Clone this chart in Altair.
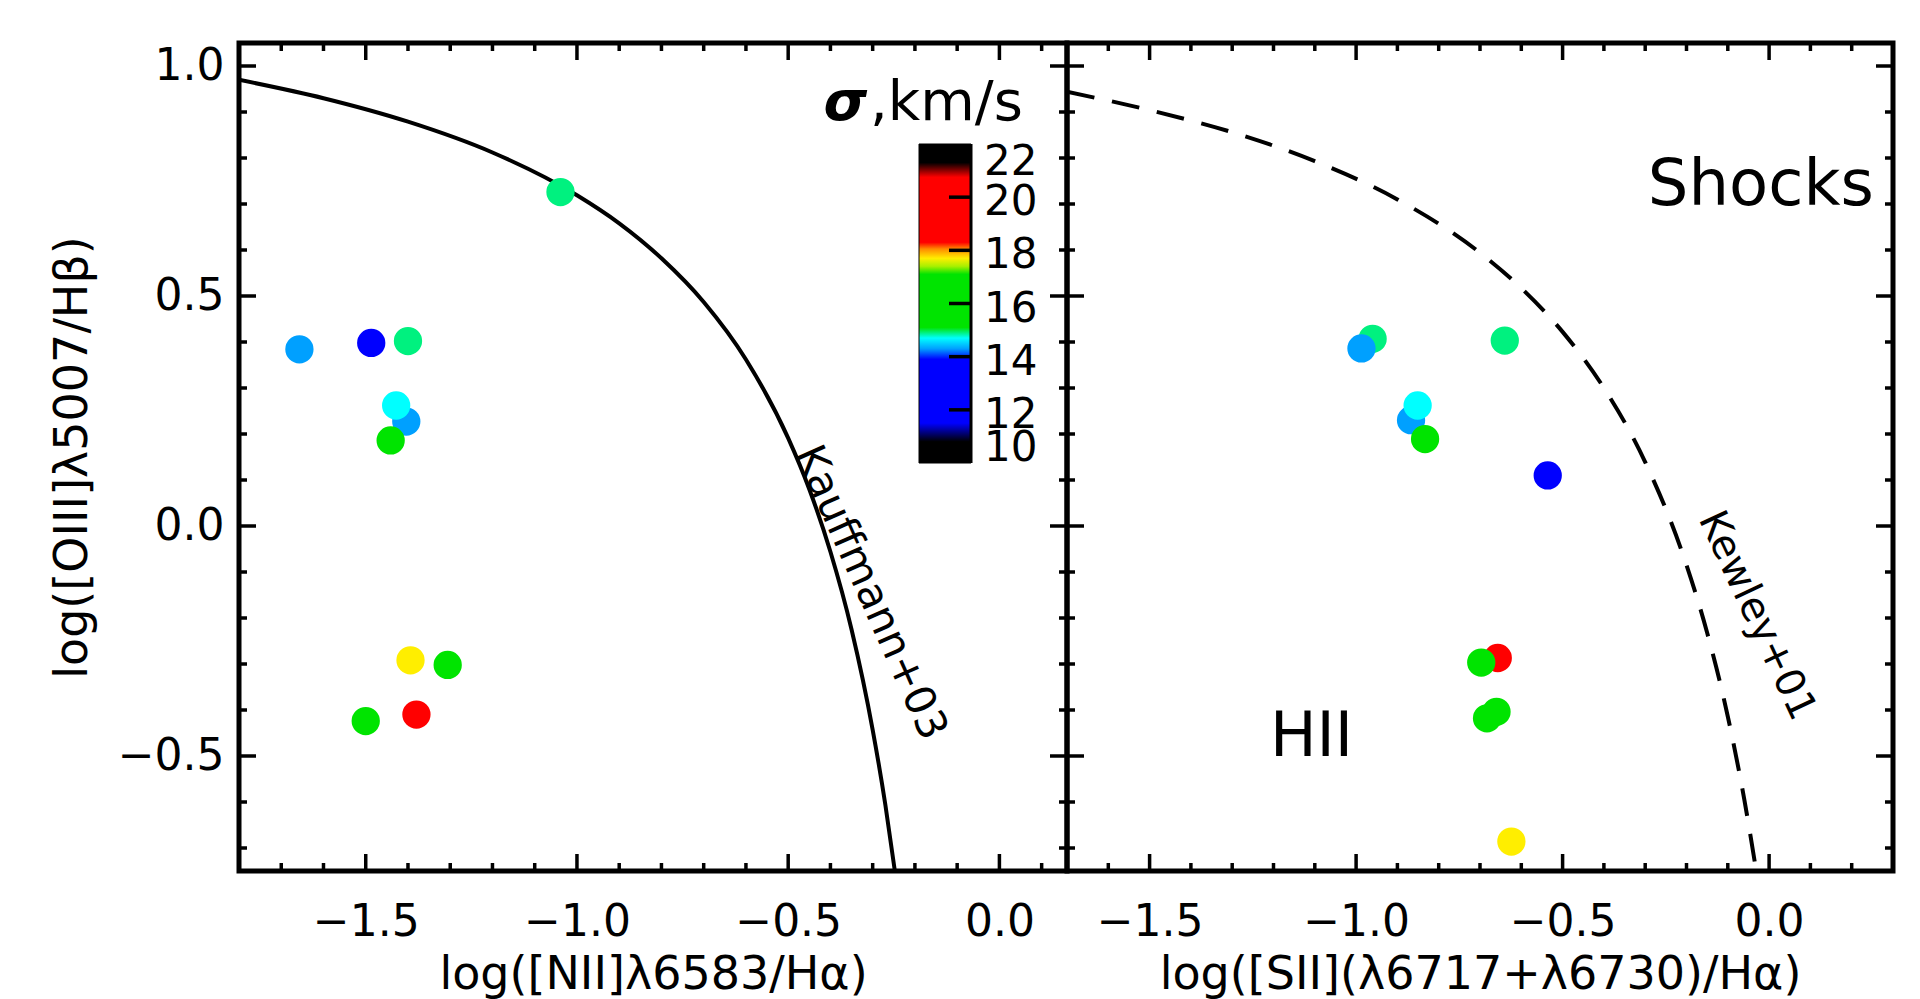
import altair as alt
import pandas as pd

FONT = "DejaVu Sans"

# ---------------- data ----------------
# left panel: log([NII]/Ha) vs log([OIII]/Hb)
nii_x = [-1.039, -1.657, -1.487, -1.400, -1.404, -1.428, -1.441, -1.394, -1.306, -1.500, -1.380]
nii_y = [0.726, 0.384, 0.398, 0.402, 0.227, 0.262, 0.186, -0.292, -0.302, -0.424, -0.410]
nii_sigma = [14.9, 14.3, 13.0, 14.9, 14.3, 14.7, 16.0, 17.7, 16.0, 16.0, 19.5]

# right panel: log([SII]/Ha) vs log([OIII]/Hb)
sii_x = [-0.960, -0.987, -0.640, -0.867, -0.851, -0.833, -0.536, -0.657, -0.697, -0.660, -0.683, -0.624]
sii_y = [0.407, 0.386, 0.403, 0.230, 0.262, 0.189, 0.110, -0.287, -0.297, -0.404, -0.418, -0.686]
sii_sigma = [14.9, 14.3, 14.9, 14.3, 14.7, 16.0, 13.0, 19.5, 16.0, 16.0, 16.0, 17.7]

# Kauffmann+03 curve
kauff_x = [-1.8, -1.6, -1.4, -1.2, -1.0, -0.9, -0.8, -0.7, -0.6, -0.5, -0.45, -0.4, -0.35, -0.3, -0.27, -0.248]
kauff_y = [0.970, 0.930, 0.879, 0.812, 0.719, 0.658, 0.582, 0.487, 0.362, 0.191, 0.080, -0.056, -0.225, -0.443, -0.606, -0.747]

# Kewley+01 curve
kew_x = [-1.7, -1.5, -1.3, -1.1, -0.9, -0.7, -0.6, -0.5, -0.4, -0.3, -0.2, -0.15, -0.1, -0.06, -0.031]
kew_y = [0.944, 0.904, 0.856, 0.793, 0.710, 0.594, 0.517, 0.422, 0.300, 0.139, -0.085, -0.232, -0.414, -0.595, -0.751]

# colour map of sigma (km/s)
cmap_sigma = [10.0, 10.8, 11.5, 13.9, 14.3, 14.7, 15.1, 17.1, 17.4, 17.7, 18.05, 18.3, 20.75, 21.3, 22.0]
cmap_color = ["#000000", "#000000", "#0000ff", "#0000ff", "#00a0ff", "#00ffff", "#00e400", "#00e400",
              "#a8f000", "#ffee00", "#ff8c00", "#ff0000", "#ff0000", "#000000", "#000000"]

# axis ticks
y_major = [-0.5, 0.0, 0.5, 1.0]
y_minor = [-0.7, -0.6, -0.4, -0.3, -0.2, -0.1, 0.1, 0.2, 0.3, 0.4, 0.6, 0.7, 0.8, 0.9]
xl_major = [-1.5, -1.0, -0.5, 0.0]
xl_minor = [-1.7, -1.6, -1.4, -1.3, -1.2, -1.1, -0.9, -0.8, -0.7, -0.6, -0.4, -0.3, -0.2, -0.1, 0.1]
xr_major = [-1.5, -1.0, -0.5, 0.0]
xr_minor = [-1.6, -1.4, -1.3, -1.2, -1.1, -0.9, -0.8, -0.7, -0.6, -0.4, -0.3, -0.2, -0.1, 0.1, 0.2]
cbar_labels = [10, 12, 14, 16, 18, 20, 22]
cbar_ticks = [12, 14, 16, 18, 20]

Y_DOMAIN = [-0.75, 1.05]
XL_DOMAIN = [-1.8, 0.16]
XR_DOMAIN = [-1.7, 0.3]

H = 828
WL = 828
WR = 826
MAJ = 17
MIN = 8
TW = 3.5

cscale = alt.Scale(domain=cmap_sigma, range=cmap_color, interpolate="rgb")


def make_axis(values, title, **kw):
    return alt.Axis(values=values, format=".1f", title=title, ticks=False, tickSize=0,
                    domain=False, grid=False, labelFont=FONT, titleFont=FONT,
                    labelFontSize=44, titleFontSize=46, labelColor="black", titleColor="black",
                    titleFontWeight="normal", labelFlush=False, labelOverlap=False, **kw)


def tick_layers(xs, ys, W, xmaj, xmin, ax_x, ax_y):
    layers = []
    for vals, L in ((xmaj, MAJ), (xmin, MIN)):
        df = pd.DataFrame({"v": vals})
        base = alt.Chart(df).mark_rule(color="black", strokeWidth=TW)
        layers.append(base.encode(x=alt.X("v:Q", scale=xs, axis=ax_x), y=alt.value(H), y2=alt.value(H - L)))
        layers.append(base.encode(x=alt.X("v:Q", scale=xs, axis=ax_x), y=alt.value(0), y2=alt.value(L)))
    for vals, L in ((y_major, MAJ), (y_minor, MIN)):
        df = pd.DataFrame({"v": vals})
        base = alt.Chart(df).mark_rule(color="black", strokeWidth=TW)
        layers.append(base.encode(y=alt.Y("v:Q", scale=ys, axis=ax_y), x=alt.value(0), x2=alt.value(L)))
        layers.append(base.encode(y=alt.Y("v:Q", scale=ys, axis=ax_y), x=alt.value(W), x2=alt.value(W - L)))
    return layers


def text_layer(x, y, txt, xs, ys, ax_x, ax_y, size, angle=0, baseline="alphabetic"):
    df = pd.DataFrame({"x": [x], "y": [y], "t": [txt]})
    return alt.Chart(df).mark_text(font=FONT, fontSize=size, angle=angle, align="center",
                                   baseline=baseline, color="black").encode(
        x=alt.X("x:Q", scale=xs, axis=ax_x), y=alt.Y("y:Q", scale=ys, axis=ax_y), text="t:N")


ys = alt.Scale(domain=Y_DOMAIN, nice=False, zero=False)

# ---------------- left panel ----------------
xs_l = alt.Scale(domain=XL_DOMAIN, nice=False, zero=False)
ax_xl = make_axis(xl_major, "log([NII]λ6583/Hα)", labelPadding=29, titlePadding=8)
ax_yl = make_axis(y_major, "log([OIII]λ5007/Hβ)", labelPadding=15, titlePadding=21)

df_l = pd.DataFrame({"x": nii_x, "y": nii_y, "s": nii_sigma, "i": list(range(len(nii_x)))})
df_k = pd.DataFrame({"x": kauff_x, "y": kauff_y})

pts_l = alt.Chart(df_l).mark_circle(size=800, opacity=1).encode(
    x=alt.X("x:Q", scale=xs_l, axis=ax_xl),
    y=alt.Y("y:Q", scale=ys, axis=ax_yl),
    color=alt.Color("s:Q", scale=cscale, legend=None),
    order=alt.Order("i:Q"),
)
line_k = alt.Chart(df_k).mark_line(color="black", strokeWidth=4, clip=True, interpolate="monotone").encode(
    x=alt.X("x:Q", scale=xs_l, axis=ax_xl), y=alt.Y("y:Q", scale=ys, axis=ax_yl))
lbl_k = text_layer(-0.305, -0.145, "Kauffmann+03", xs_l, ys, ax_xl, ax_yl, 42, angle=66, baseline="middle")

main_l = alt.layer(line_k, pts_l, *tick_layers(xs_l, ys, WL, xl_major, xl_minor, ax_xl, ax_yl), lbl_k)

# colour bar
CB_X0, CB_X1, CB_Y0, CB_Y1 = 680, 732, 420, 101
cbs = alt.Scale(domain=[cmap_sigma[0], cmap_sigma[-1]], range=[CB_Y0, CB_Y1], nice=False, zero=False)
span = cmap_sigma[-1] - cmap_sigma[0]
grad = alt.LinearGradient(
    gradient="linear",
    stops=[alt.GradientStop(color=c, offset=(s - cmap_sigma[0]) / span) for s, c in zip(cmap_sigma, cmap_color)],
    x1=0, x2=0, y1=1, y2=0)
cb_df = pd.DataFrame({"lo": [cmap_sigma[0]], "hi": [cmap_sigma[-1]]})
cb_rect = alt.Chart(cb_df).mark_rect(color=grad, stroke="black", strokeWidth=1).encode(
    x=alt.value(CB_X0), x2=alt.value(CB_X1),
    y=alt.Y("lo:Q", scale=cbs, axis=None), y2="hi:Q")
cb_edge = alt.Chart(cb_df).mark_rule(color="black", strokeWidth=3).encode(
    x=alt.value(CB_X1), y=alt.Y("lo:Q", scale=cbs, axis=None), y2="hi:Q")
cb_ticks = alt.Chart(pd.DataFrame({"v": cbar_ticks})).mark_rule(color="black", strokeWidth=TW).encode(
    y=alt.Y("v:Q", scale=cbs, axis=None), x=alt.value(CB_X1), x2=alt.value(CB_X1 - 22))


def cb_label_layer(vals, baseline, dy):
    df = pd.DataFrame({"v": vals})
    return alt.Chart(df).mark_text(font=FONT, fontSize=42, align="left", baseline=baseline, dy=dy,
                                   color="black").encode(
        y=alt.Y("v:Q", scale=cbs, axis=None), x=alt.value(CB_X1 + 13), text=alt.Text("v:Q", format="d"))


cb_lab_top = cb_label_layer(cbar_labels[-1:], "top", -2)
cb_lab_bot = cb_label_layer(cbar_labels[:1], "alphabetic", -2)
cb_lab_mid = cb_label_layer(cbar_labels[1:-1], "middle", 5)

cb_sigma = alt.Chart(pd.DataFrame({"t": ["σ"]})).mark_text(
    font=FONT, fontSize=56, fontStyle="italic", fontWeight="bold", align="right", baseline="alphabetic",
    color="black").encode(text="t:N", x=alt.value(628), y=alt.value(77))
cb_unit = alt.Chart(pd.DataFrame({"t": [",km/s"]})).mark_text(
    font=FONT, fontSize=56, align="left", baseline="alphabetic", color="black").encode(
    text="t:N", x=alt.value(631), y=alt.value(77))
cbar = alt.layer(cb_rect, cb_edge, cb_ticks, cb_lab_top, cb_lab_bot, cb_lab_mid, cb_sigma, cb_unit)

left = alt.layer(main_l, cbar).resolve_scale(y="independent").properties(width=WL, height=H)

# ---------------- right panel ----------------
xs_r = alt.Scale(domain=XR_DOMAIN, nice=False, zero=False)
ax_xr = make_axis(xr_major, "log([SII](λ6717+λ6730)/Hα)", labelPadding=29, titlePadding=8)
ax_yr = None
df_r = pd.DataFrame({"x": sii_x, "y": sii_y, "s": sii_sigma, "i": list(range(len(sii_x)))})
df_w = pd.DataFrame({"x": kew_x, "y": kew_y})

pts_r = alt.Chart(df_r).mark_circle(size=800, opacity=1).encode(
    x=alt.X("x:Q", scale=xs_r, axis=ax_xr),
    y=alt.Y("y:Q", scale=ys, axis=ax_yr),
    color=alt.Color("s:Q", scale=cscale, legend=None),
    order=alt.Order("i:Q"),
)
line_w = alt.Chart(df_w).mark_line(color="black", strokeWidth=4, strokeDash=[28, 18], clip=True,
                                   interpolate="monotone").encode(
    x=alt.X("x:Q", scale=xs_r, axis=ax_xr), y=alt.Y("y:Q", scale=ys, axis=ax_yr))
lbl_w = text_layer(-0.03, -0.195, "Kewley+01", xs_r, ys, ax_xr, ax_yr, 40, angle=65, baseline="middle")
lbl_shocks = text_layer(-0.02, 0.697, "Shocks", xs_r, ys, ax_xr, ax_yr, 64)
lbl_hii = text_layer(-1.108, -0.5, "HII", xs_r, ys, ax_xr, ax_yr, 62)

right = alt.layer(line_w, pts_r, *tick_layers(xs_r, ys, WR, xr_major, xr_minor, ax_xr, ax_yr),
                  lbl_w, lbl_shocks, lbl_hii).properties(width=WR, height=H)

chart = alt.hconcat(left, right, spacing=0, bounds="flush").properties(
    padding={"left": 38, "top": 30, "right": 0, "bottom": 0}
).configure(font=FONT).configure_view(stroke="black", strokeWidth=5)

chart.save("out.html", embed_options={"renderer": "svg", "actions": False})
